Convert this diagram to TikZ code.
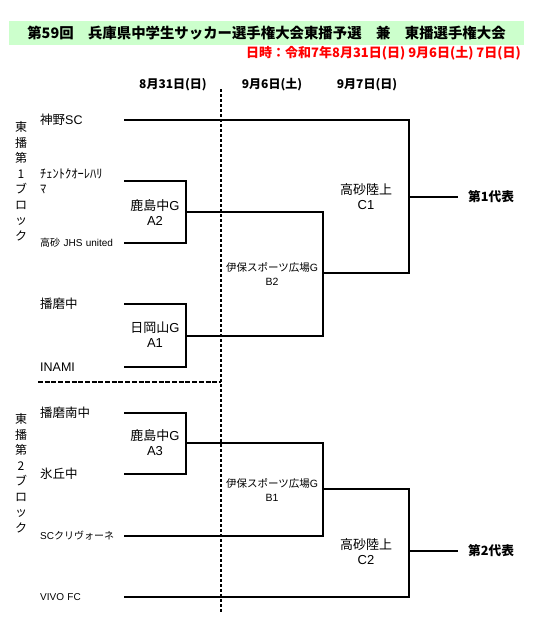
\documentclass[tikz,border=0pt]{standalone}
\usepackage{fontspec}
\setmainfont{Noto Sans CJK JP}
\newfontfamily\lat{Liberation Sans}
\usetikzlibrary{positioning}
\definecolor{titlegreen}{HTML}{CCFFCC}
\definecolor{datered}{HTML}{FF0000}

\begin{document}
\begin{tikzpicture}[x=1pt, y=-1pt,
    team/.style={anchor=west, text width=84pt, inner xsep=0pt, inner ysep=1pt, align=left, font=\fontsize{12.5}{15}\selectfont},
    teamsmall/.style={team, font=\fontsize{10}{12}\selectfont},
    venue/.style={align=center, inner sep=0pt, font=\fontsize{13}{15}\selectfont},
    venuesmall/.style={venue, font=\fontsize{10.5}{14}\selectfont},
    block/.style={align=center, inner sep=0pt, font=\fontsize{12}{15.5}\selectfont},
    day/.style={font=\bfseries\fontsize{12}{14}\selectfont},
    winner/.style={anchor=west, inner xsep=0pt, font=\bfseries\fontsize{12.7}{15}\selectfont},
    bracket/.style={line width=1.3pt},
    divider/.style={line width=1.2pt, dash pattern=on 3.3pt off 1.7pt},
    dividerh/.style={divider, dash pattern=on 5pt off 1.7pt}
]
\useasboundingbox (0,0) rectangle (546,626);

% Title band
\node[fill=titlegreen, minimum width=515pt, minimum height=24pt, inner sep=0pt, font=\bfseries\fontsize{14.4}{16}\selectfont] (title) at (266.5,33) {第59回　兵庫県中学生サッカー選手権大会東播予選　兼　東播選手権大会};
\node[anchor=east, inner sep=0pt, text=datered, font=\bfseries\fontsize{13}{14}\selectfont] (dates) at (521,53) {日時：令和7年8月31日(日) 9月6日(土) 7日(日)};

% Round dates
\node[day] (day1) at (173,85) {8月31日(日)};
\node[day] (day2) at (272,85) {9月6日(土)};
\node[day] (day3) at (367,85) {9月7日(日)};

% Dividers
\coordinate (div-top) at (221,89);
\coordinate (div-bot) at (221,613);
\coordinate (div-left) at (38,382);
\coordinate (div-mid) at (221,382);
\draw[divider] (div-top) -- (div-bot);
\draw[dividerh] (div-left) -- (div-mid);

% Block 1
\node[block] (blk1) at (21,181) {東\\播\\第\\1\\ブ\\ロ\\ッ\\ク};
\node[team] (t1) at (40,120) {神野{\lat SC}};
\node[team] (t2) at (40,181) {ﾁｪﾝﾄｸｵｰﾚﾊﾘ\\ﾏ};
\node[teamsmall] (t3) at (40,243) {高砂 {\lat JHS united}};
\node[team] (t4) at (40,304) {播磨中};
\node[team] (t5) at (40,367) {{\lat INAMI}};

% Block 2
\node[block] (blk2) at (21,473) {東\\播\\第\\2\\ブ\\ロ\\ッ\\ク};
\node[team] (t6) at (40,413) {播磨南中};
\node[team] (t7) at (40,474) {氷丘中};
\node[teamsmall] (t8) at (40,536) {{\lat SC}クリヴォーネ};
\node[teamsmall] (t9) at (40,597) {{\lat VIVO FC}};

% Match points
\coordinate (j-a2) at (186,212);
\coordinate (j-a1) at (186,336);
\coordinate (j-a3) at (186,443);
\coordinate (j-b2) at (323,273);
\coordinate (j-b1) at (323,489);
\coordinate (j-c1) at (409,197);
\coordinate (j-c2) at (409,551);

% Venues
\node[venue] (a2) at (155,213) {鹿島中{\lat G}\\{\lat A2}};
\node[venue] (a1) at (155,335) {日岡山{\lat G}\\{\lat A1}};
\node[venue] (a3) at (155,443) {鹿島中{\lat G}\\{\lat A3}};
\node[venuesmall] (b2) at (272,274) {伊保スポーツ広場{\lat G}\\{\lat B2}};
\node[venuesmall] (b1) at (272,490) {伊保スポーツ広場{\lat G}\\{\lat B1}};
\node[venue] (c1) at (366,197) {高砂陸上\\{\lat C1}};
\node[venue] (c2) at (366,552) {高砂陸上\\{\lat C2}};

% Winners
\node[winner] (w1) at (468,197) {第1代表};
\node[winner] (w2) at (468,551) {第2代表};

% Brackets
\draw[bracket] (t2.east) -| (j-a2) |- (t3.east);
\draw[bracket] (t4.east) -| (j-a1) |- (t5.east);
\draw[bracket] (t6.east) -| (j-a3) |- (t7.east);
\draw[bracket] (j-a2) -| (j-b2) |- (j-a1);
\draw[bracket] (j-a3) -| (j-b1) |- (t8.east);
\draw[bracket] (t1.east) -| (j-c1) |- (j-b2);
\draw[bracket] (j-b1) -| (j-c2) |- (t9.east);
\draw[bracket] (j-c1) -- ([xshift=-10pt]w1.west);
\draw[bracket] (j-c2) -- ([xshift=-10pt]w2.west);
\end{tikzpicture}
\end{document}
